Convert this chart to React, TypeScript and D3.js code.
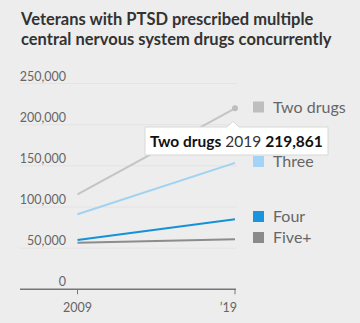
import React from "react";
import * as d3 from "d3";

const years = [2009, 2019];
const xTickLabels = ["2009", "\u201919"];
const seriesNames = ["Two drugs", "Three", "Four", "Five+"];
const twoDrugs = [115400, 219861];
const three = [91100, 153600];
const four = [59900, 85000];
const fivePlus = [56600, 60700];
const yTicks = [0, 50000, 100000, 150000, 200000, 250000];
const lineColors = ["#c4c4c4", "#a0d2f2", "#1591d8", "#8c8c8c"];
const legendColors = ["#bebebe", "#a3d4f5", "#1a95dd", "#8a8a8a"];
const legendY = [107, 161.5, 216.5, 237.5];
const titleLines = ["Veterans with PTSD prescribed multiple", "central nervous system drugs concurrently"];

const W = 360;
const H = 323;
const FONT = "Lato, 'Noto Sans', sans-serif";

export default function App() {
  const x = d3.scaleLinear().domain([2009, 2019]).range([77.5, 235]);
  const y = d3.scaleLinear().domain([0, 250000]).range([289.3, 83.5]);
  const allSeries = [twoDrugs, three, four, fivePlus];
  const line = d3
    .line<number>()
    .x((_, i) => x(years[i]))
    .y((d) => y(d));
  const fmt = d3.format(",");

  const tipX = x(2019);
  const tipY = y(twoDrugs[1]);

  return (
    <svg
      width={W}
      height={H}
      style={{ position: "absolute", left: 0, top: 0, background: "#ededed" }}
      fontFamily={FONT}
    >
      <rect x={0} y={0} width={W} height={H} fill="#ededed" />
      {titleLines.map((t, i) => (
        <text key={i} x={21} y={25 + i * 19.5} fontSize={16.5} fontWeight={700} fill="#333">
          {t}
        </text>
      ))}
      {yTicks.map((t) => (
        <g key={t}>
          {t > 0 && (
            <line x1={20} x2={237} y1={y(t)} y2={y(t)} stroke="#e4e4e4" strokeWidth={1} />
          )}
          <text x={66} y={y(t) - 3} textAnchor="end" fontSize={12.5} fill="#666">
            {fmt(t)}
          </text>
        </g>
      ))}
      <line x1={20} x2={236} y1={y(0)} y2={y(0)} stroke="#777" strokeWidth={1.5} />
      {years.map((yr, i) => (
        <g key={yr}>
          <line x1={x(yr)} x2={x(yr)} y1={y(0)} y2={y(0) + 5} stroke="#777" strokeWidth={1} />
          <text
            x={i === 0 ? x(yr) : x(yr) + 2}
            y={312}
            textAnchor={i === 0 ? "middle" : "end"}
            fontSize={12.5}
            fill="#666"
          >
            {xTickLabels[i]}
          </text>
        </g>
      ))}
      {allSeries
        .map((s, i) => ({ s, i }))
        .reverse()
        .map(({ s, i }) => (
          <path key={i} d={line(s) || ""} fill="none" stroke={lineColors[i]} strokeWidth={2} />
        ))}
      <circle cx={tipX} cy={tipY} r={3} fill="#bdbdbd" />
      {seriesNames.map((n, i) => (
        <g key={n}>
          <rect x={253} y={legendY[i] - 5.5} width={11} height={11} fill={legendColors[i]} />
          <text x={273} y={legendY[i] + 5.5} fontSize={16} fill="#666">
            {n}
          </text>
        </g>
      ))}
      <g>
        <path
          d={`M145,127 H${tipX - 8} L${tipX - 2},${tipY + 13} L${tipX + 4},127 H328 V155 H145 Z`}
          fill="#fff"
          stroke="#d8d8d8"
          strokeWidth={1}
        />
        <text x={150} y={146.5} fontSize={15.5} fill="#111">
          <tspan fontWeight={700}>Two drugs</tspan>
          <tspan fill="#333"> 2019 </tspan>
          <tspan fontWeight={700}>{fmt(twoDrugs[1])}</tspan>
        </text>
      </g>
    </svg>
  );
}
